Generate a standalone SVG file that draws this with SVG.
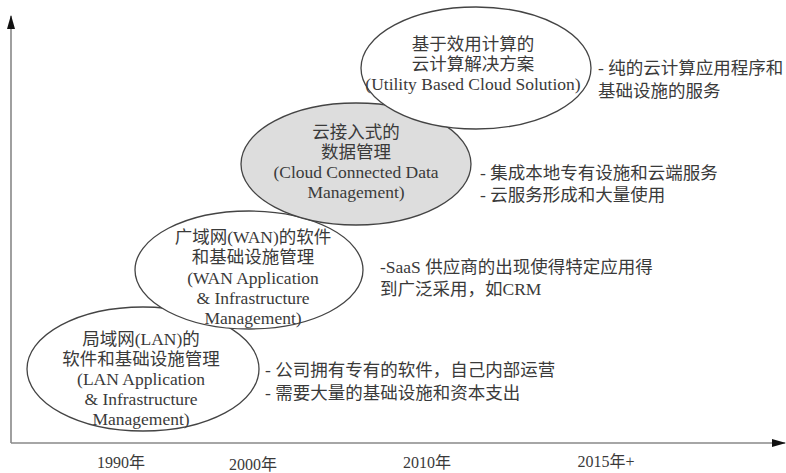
<svg xmlns="http://www.w3.org/2000/svg" width="786" height="473" viewBox="0 0 786 473">
<style>
.t{font-family:"Liberation Serif","Noto Sans CJK SC",serif;font-size:17.5px;fill:#3a3a3a;}
.y{font-size:16px;}
.c{text-anchor:middle;}
.e{stroke:#444;stroke-width:1.3;}
.ax{stroke:#888;stroke-width:1.6;fill:none;}
</style>
<defs>
<marker id="ah" markerWidth="14" markerHeight="8" refX="13" refY="4" orient="auto" markerUnits="userSpaceOnUse">
<path d="M0,0 L14,4 L0,8 Z" fill="#111"/>
</marker>
</defs>
<rect width="786" height="473" fill="#fff"/>
<g id="connectors">
<path class="ax" d="M11,443 L11,16" marker-end="url(#ah)"/>
<path class="ax" d="M11,443 L785,443" marker-end="url(#ah)"/>
</g>
<g id="lan">
<ellipse class="e" cx="143" cy="369" rx="116" ry="62" fill="#fff"/>
<text class="t c" x="141" y="345">局域网(LAN)的</text>
<text class="t c" x="141" y="365">软件和基础设施管理</text>
<text class="t c" x="141" y="385">(LAN Application</text>
<text class="t c" x="141" y="405">&amp; Infrastructure</text>
<text class="t c" x="141" y="425">Management)</text>
</g>
<g id="wan">
<ellipse class="e" cx="249" cy="270" rx="114" ry="59" fill="#fff"/>
<text class="t c" x="253" y="243">广域网(WAN)的软件</text>
<text class="t c" x="253" y="263">和基础设施管理</text>
<text class="t c" x="253" y="284">(WAN Application</text>
<text class="t c" x="253" y="304">&amp; Infrastructure</text>
<text class="t c" x="253" y="324">Management)</text>
</g>
<g id="cloud">
<ellipse class="e" cx="356" cy="164" rx="115" ry="61" fill="#ddd"/>
<text class="t c" x="356" y="138">云接入式的</text>
<text class="t c" x="356" y="158">数据管理</text>
<text class="t c" x="356" y="178">(Cloud Connected Data</text>
<text class="t c" x="356" y="198">Management)</text>
</g>
<g id="utility">
<ellipse class="e" cx="476" cy="68" rx="115" ry="61" fill="#fff"/>
<text class="t c" x="473" y="50">基于效用计算的</text>
<text class="t c" x="473" y="70">云计算解决方案</text>
<text class="t c" x="473" y="90">(Utility Based Cloud Solution)</text>
</g>
<g id="notes">
<text class="t" x="598" y="74">- 纯的云计算应用程序和</text>
<text class="t" x="598" y="97">基础设施的服务</text>
<text class="t" x="480" y="179">- 集成本地专有设施和云端服务</text>
<text class="t" x="480" y="201">- 云服务形成和大量使用</text>
<text class="t" x="380" y="273">-SaaS 供应商的出现使得特定应用得</text>
<text class="t" x="380" y="295">到广泛采用，如CRM</text>
<text class="t" x="265" y="376">- 公司拥有专有的软件，自己内部运营</text>
<text class="t" x="265" y="399">- 需要大量的基础设施和资本支出</text>
</g>
<g id="years">
<text class="t y c" x="121" y="468">1990年</text>
<text class="t y c" x="253" y="470">2000年</text>
<text class="t y c" x="427" y="468">2010年</text>
<text class="t y c" x="606" y="467">2015年+</text>
</g>
</svg>
